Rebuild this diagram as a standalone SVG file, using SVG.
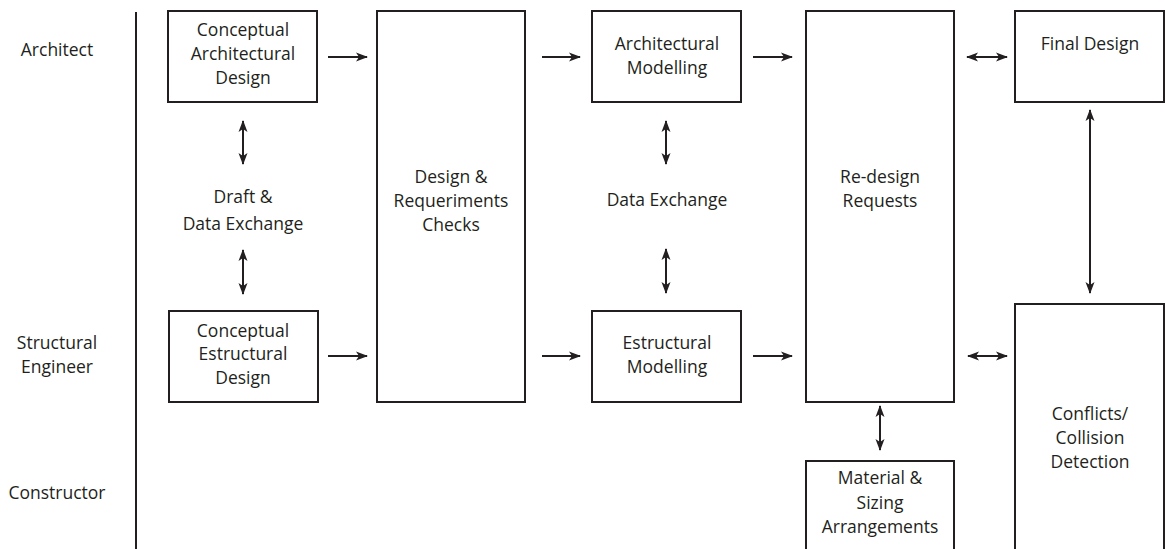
<svg xmlns="http://www.w3.org/2000/svg" width="1165" height="549" viewBox="0 0 1165 549">
<style>
.box{fill:#fff;stroke:#231f20;stroke-width:2}
.t{font-family:"Open Sans","Liberation Sans",sans-serif;font-size:17.5px;fill:#231f20;text-anchor:middle}
.c{stroke:#231f20;stroke-width:2;fill:none}
.one{marker-end:url(#ah)}
.two{marker-end:url(#ah);marker-start:url(#ah)}
</style>
<defs>
<marker id="ah" viewBox="0 0 12 10" refX="11" refY="5" markerWidth="12" markerHeight="10" markerUnits="userSpaceOnUse" orient="auto-start-reverse">
<path d="M0,0.5 L12,5 L0,9.5 L3,5 Z" fill="#231f20"/>
</marker>
</defs>
<rect width="1165" height="549" fill="#fff"/>
<line x1="136" y1="12" x2="136" y2="549" stroke="#231f20" stroke-width="2"/>
<g id="lanes">
<text class="t" x="57" y="56">Architect</text>
<text class="t" x="57" y="349">Structural</text>
<text class="t" x="57" y="373">Engineer</text>
<text class="t" x="57" y="499">Constructor</text>
</g>
<g id="n-cad"><rect class="box" x="168" y="11" width="149" height="91"/>
<text class="t" x="243" y="36">Conceptual</text><text class="t" x="243" y="60">Architectural</text><text class="t" x="243" y="84">Design</text></g>
<g id="n-ced"><rect class="box" x="169" y="311" width="149" height="91"/>
<text class="t" x="243" y="337">Conceptual</text><text class="t" x="243" y="360">Estructural</text><text class="t" x="243" y="384">Design</text></g>
<g id="n-draft"><text class="t" x="243" y="203">Draft &amp;</text><text class="t" x="243" y="230">Data Exchange</text></g>
<g id="n-checks"><rect class="box" x="377" y="11" width="148" height="391"/>
<text class="t" x="451" y="183">Design &amp;</text><text class="t" x="451" y="207">Requeriments</text><text class="t" x="451" y="231">Checks</text></g>
<g id="n-am"><rect class="box" x="592" y="11" width="149" height="91"/>
<text class="t" x="667" y="50">Architectural</text><text class="t" x="667" y="74">Modelling</text></g>
<g id="n-dx"><text class="t" x="667" y="206">Data Exchange</text></g>
<g id="n-em"><rect class="box" x="592" y="311" width="149" height="91"/>
<text class="t" x="667" y="349">Estructural</text><text class="t" x="667" y="373">Modelling</text></g>
<g id="n-rr"><rect class="box" x="806" y="11" width="148" height="391"/>
<text class="t" x="880" y="183">Re-design</text><text class="t" x="880" y="207">Requests</text></g>
<g id="n-ms"><rect class="box" x="806" y="461" width="148" height="100"/>
<text class="t" x="880" y="484">Material &amp;</text><text class="t" x="880" y="509">Sizing</text><text class="t" x="880" y="533">Arrangements</text></g>
<g id="n-fd"><rect class="box" x="1015" y="11" width="149" height="91"/>
<text class="t" x="1090" y="50">Final Design</text></g>
<g id="n-cc"><rect class="box" x="1015" y="304" width="149" height="260"/>
<text class="t" x="1090" y="420">Conflicts/</text><text class="t" x="1090" y="444">Collision</text><text class="t" x="1090" y="468">Detection</text></g>
<g id="connectors">
<line class="c one" x1="328" y1="57" x2="367" y2="57"/>
<line class="c one" x1="328" y1="356" x2="367" y2="356"/>
<line class="c one" x1="542" y1="57" x2="580" y2="57"/>
<line class="c one" x1="753" y1="57" x2="792" y2="57"/>
<line class="c one" x1="542" y1="356" x2="580" y2="356"/>
<line class="c one" x1="753" y1="356" x2="792" y2="356"/>
<line class="c two" x1="967" y1="57" x2="1007" y2="57"/>
<line class="c two" x1="968" y1="356" x2="1007" y2="356"/>
<line class="c two" x1="1090" y1="110" x2="1090" y2="293"/>
<line class="c two" x1="880" y1="406" x2="880" y2="450"/>
<line class="c two" x1="243" y1="121" x2="243" y2="164"/>
<line class="c two" x1="243" y1="250" x2="243" y2="294"/>
<line class="c two" x1="666" y1="121" x2="666" y2="164"/>
<line class="c two" x1="666" y1="249" x2="666" y2="293"/>
</g>
</svg>
